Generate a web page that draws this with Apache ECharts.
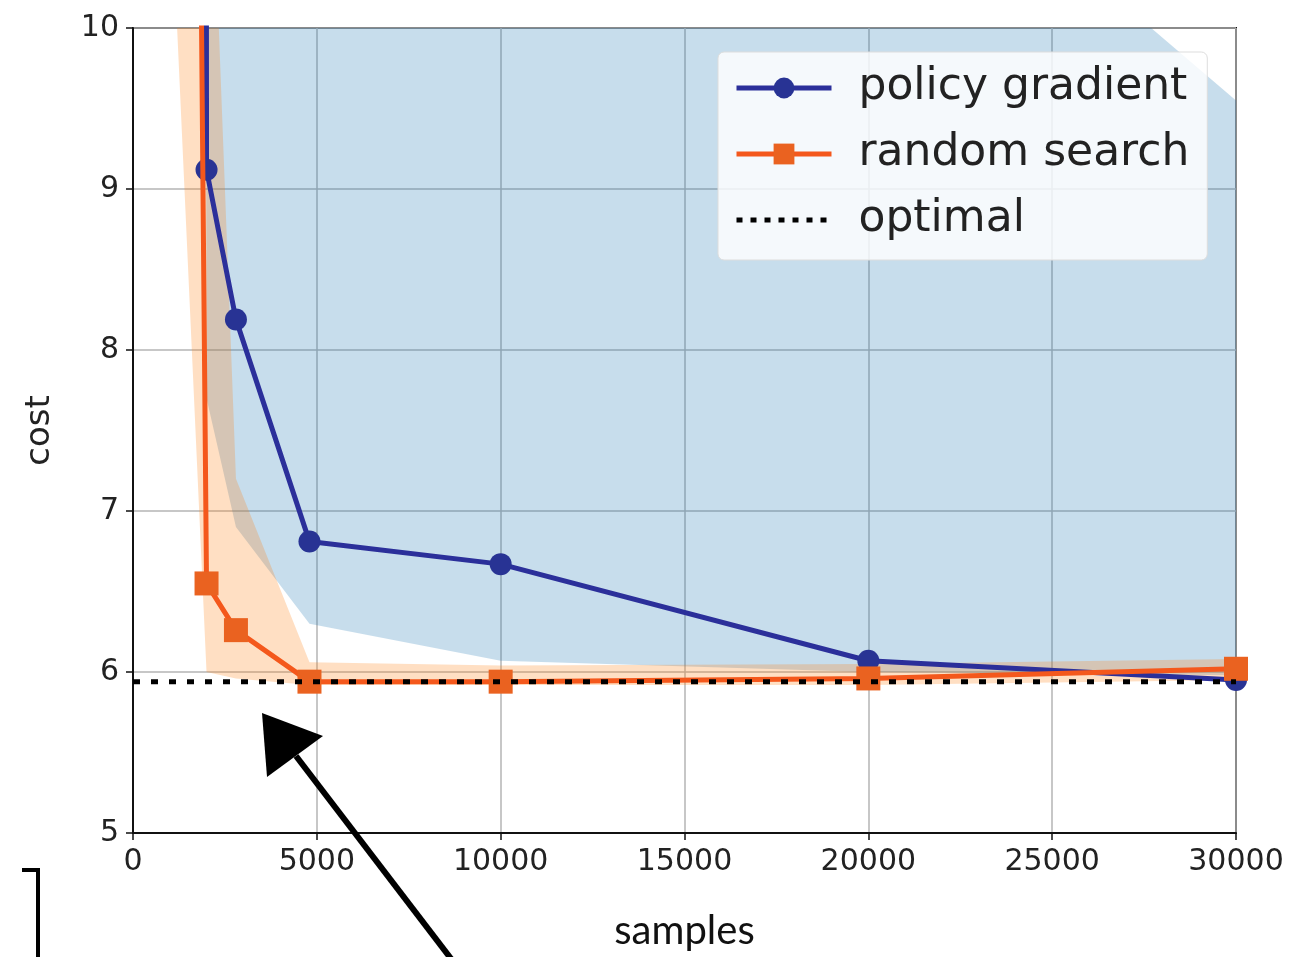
<!DOCTYPE html>
<html>
<head>
<meta charset="utf-8">
<title>cost vs samples</title>
<script src="https://cdn.jsdelivr.net/npm/echarts@6/dist/echarts.min.js"></script>
<style>
  html, body { margin: 0; padding: 0; background: #fff; }
  #chart { width: 1310px; height: 957px; }
</style>
</head>
<body>
<div id="chart"></div>
<script>
// samples at which both methods were evaluated
const samples = [1000, 2000, 2800, 4800, 10000, 20000, 30000]

// policy gradient: mean cost and spread
const pgCost = [300, 9.12, 8.19, 6.81, 6.67, 6.07, 5.95]
const pgUpper = [600, 60, 30, 18, 14, 11.5, 9.55]
const pgLower = [150, 7.7, 6.9, 6.3, 6.07, 6.0, 5.98]

// random search: mean cost and spread
const rsCost = [32, 6.55, 6.26, 5.94, 5.94, 5.96, 6.02]
const rsUpper = [60, 12, 7.2, 6.06, 6.04, 6.05, 6.08]
const rsLower = [11, 6.0, 5.96, 5.92, 5.92, 5.92, 5.95]

// optimal cost line
const optimalX = [0, 30000]
const optimalCost = [5.94, 5.94]

const xTicks = { min: 0, max: 30000, interval: 5000 }
const yTicks = { min: 5, max: 10, interval: 1 }

const chart = echarts.init(document.getElementById('chart'))

const pair = (xs, ys) => xs.map((x, i) => [x, ys[i]])

// shaded band between lower and upper, drawn through the axis scales
const band = (name, upper, lower, color) => ({
  name: name,
  type: 'custom',
  clip: true,
  silent: true,
  z: 1,
  data: [[samples[0], lower[0]]],
  renderItem: (params, api) => {
    const pts = []
    samples.forEach((x, i) => pts.push(api.coord([x, upper[i]])))
    for (let i = samples.length - 1; i >= 0; i--) pts.push(api.coord([samples[i], lower[i]]))
    return {
      type: 'polygon',
      shape: { points: pts },
      style: { fill: color }
    }
  }
})

const option = {
  backgroundColor: '#fff',
  animation: false,
  grid: {
    left: 133,
    top: 28,
    right: 74,
    bottom: 124,
    outerBoundsMode: 'none',
    containLabel: false,
    show: true,
    borderColor: '#111',
    borderWidth: 2,
    backgroundColor: 'transparent'
  },
  legend: {
    data: [
      { name: 'policy gradient', lineStyle: { width: 5 } },
      { name: 'random search', lineStyle: { width: 5 } },
      {
        name: 'optimal',
        itemStyle: { color: 'rgba(0,0,0,0)', borderWidth: 0 },
        lineStyle: { width: 5, type: [6, 8] }
      }
    ],
    orient: 'vertical',
    left: 718,
    top: 52,
    padding: [14, 18, 18, 16],
    itemGap: 22,
    itemWidth: 95,
    itemHeight: 26,
    backgroundColor: 'rgba(255,255,255,0.82)',
    borderColor: '#dddddd',
    borderWidth: 1,
    borderRadius: 6,
    textStyle: {
      fontFamily: 'DejaVu Sans',
      fontSize: 44,
      color: '#222',
      padding: [0, 0, 0, 22]
    }
  },
  xAxis: {
    type: 'value',
    min: xTicks.min,
    max: xTicks.max,
    interval: xTicks.interval,
    name: 'samples',
    nameLocation: 'middle',
    nameGap: 78,
    nameTextStyle: { fontFamily: 'Lato', fontSize: 40, color: '#111' },
    axisLine: { show: true, lineStyle: { color: '#111', width: 2 } },
    axisTick: { show: true, inside: false, length: 7, lineStyle: { color: '#111', width: 1.5 } },
    axisLabel: {
      margin: 14,
      fontFamily: 'DejaVu Sans',
      fontSize: 30,
      color: '#222',
      formatter: v => String(v)
    },
    splitLine: { show: true, lineStyle: { color: '#b4b4b4', width: 1.5 } }
  },
  yAxis: {
    type: 'value',
    min: yTicks.min,
    max: yTicks.max,
    interval: yTicks.interval,
    name: 'cost',
    nameLocation: 'middle',
    nameRotate: 90,
    nameGap: 76,
    nameTextStyle: { fontFamily: 'DejaVu Sans', fontSize: 34, color: '#222' },
    axisLine: { show: true, lineStyle: { color: '#111', width: 2 } },
    axisTick: { show: true, inside: false, length: 7, lineStyle: { color: '#111', width: 1.5 } },
    axisLabel: { margin: 14, fontFamily: 'DejaVu Sans', fontSize: 30, color: '#222' },
    splitLine: { show: true, lineStyle: { color: '#b4b4b4', width: 1.5 } }
  },
  series: [
    band('pg band', pgUpper, pgLower, 'rgba(31,119,180,0.25)'),
    band('rs band', rsUpper, rsLower, 'rgba(255,127,14,0.25)'),
    {
      name: 'policy gradient',
      type: 'line',
      z: 3,
      clip: true,
      data: pair(samples, pgCost),
      symbol: 'circle',
      symbolSize: 22,
      color: '#2b2f9a',
      itemStyle: { color: '#283394' },
      lineStyle: { color: '#2b2f9a', width: 5 }
    },
    {
      name: 'random search',
      type: 'line',
      z: 4,
      clip: true,
      data: pair(samples, rsCost),
      symbol: 'rect',
      symbolSize: 24,
      color: '#f4581c',
      itemStyle: { color: '#ea6220' },
      lineStyle: { color: '#f4581c', width: 5 }
    },
    {
      name: 'optimal',
      type: 'line',
      z: 5,
      data: pair(optimalX, optimalCost),
      symbol: 'none',
      color: '#000',
      lineStyle: { color: '#000', width: 5, type: [7, 11] }
    }
  ],
  graphic: [
    // hand drawn arrow pointing at the optimal line
    {
      type: 'polyline',
      z: 100,
      shape: { points: [[452, 960], [296, 756]] },
      style: { stroke: '#000', lineWidth: 6, fill: null }
    },
    {
      type: 'polygon',
      z: 100,
      shape: { points: [[262, 713], [323, 736], [267, 777]] },
      style: { fill: '#000' }
    },
    // bracket in the lower left corner
    {
      type: 'polyline',
      z: 100,
      shape: { points: [[22, 870], [38, 870], [38, 957]] },
      style: { stroke: '#000', lineWidth: 4, fill: null }
    }
  ]
}

chart.setOption(option)
window.addEventListener('resize', () => chart.resize())
</script>
</body>
</html>
